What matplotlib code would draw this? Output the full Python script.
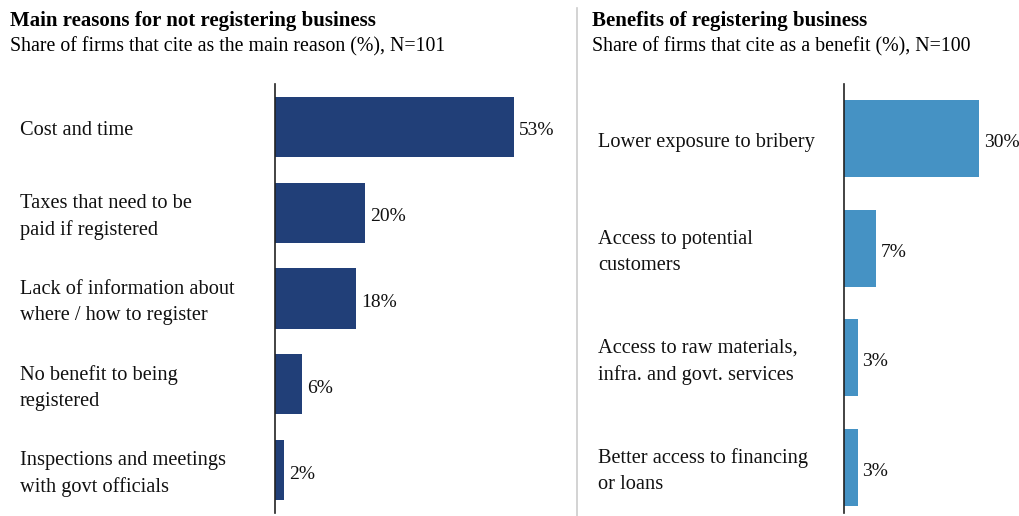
import matplotlib
matplotlib.use("Agg")
import matplotlib.pyplot as plt
from matplotlib.lines import Line2D
from matplotlib.transforms import ScaledTranslation

plt.rcParams['font.family'] = ['Liberation Serif', 'DejaVu Serif']

# main reasons for not registering
reasons = ["Cost and time",
           "Taxes that need to be\npaid if registered",
           "Lack of information about\nwhere / how to register",
           "No benefit to being\nregistered",
           "Inspections and meetings\nwith govt officials"]
reason_pct = [53, 20, 18, 6, 2]

# benefits of registering
benefits = ["Lower exposure to bribery",
            "Access to potential\ncustomers",
            "Access to raw materials,\ninfra. and govt. services",
            "Better access to financing\nor loans"]
benefit_pct = [30, 7, 3, 3]

W, H = 1019, 516
PX_PER_PCT = 4.5
LABEL_SIZE = 14.7
fig = plt.figure(figsize=(W / 100, H / 100), dpi=100)
# nudge text down a few pixels so glyphs sit centred on the bars
nudge = ScaledTranslation(0, -4 / 100, fig.dpi_scale_trans)


def fx(px):
    return px / W


def fy(px):
    return 1 - px / H


def panel(x0, width_px, top, bottom, vals, color, ylim):
    ax = fig.add_axes([fx(x0), fy(bottom), width_px / W, (bottom - top) / H])
    ypos = list(range(len(vals)))
    ax.barh(ypos, vals, height=0.7, color=color)
    ax.set_xlim(0, width_px / PX_PER_PCT)
    ax.set_ylim(*ylim)
    for s in ['top', 'right', 'bottom']:
        ax.spines[s].set_visible(False)
    ax.spines['left'].set_linewidth(1.2)
    ax.spines['left'].set_color('#222222')
    ax.set_xticks([])
    ax.set_yticks([])
    for y, v in zip(ypos, vals):
        ax.text(v + 1.1, y, f"{v}%", va='center', ha='left', fontsize=14,
                color='#111111', transform=ax.transData + nudge)
    return ax


def place_labels(ax, x_px, cats):
    # category names sit in the left margin, centred on their bars
    for y, c in enumerate(cats):
        disp = ax.transData.transform((0, y))[1]
        fig.text(fx(x_px), disp / H, c, fontsize=LABEL_SIZE, va='center',
                 ha='left', linespacing=1.5, color='#111111',
                 transform=fig.transFigure + nudge)


ax1 = panel(275, 280, 84, 513, reason_pct, '#213f78', (4.5, -0.5))
ax2 = panel(844, 170, 84, 513, benefit_pct, '#4592c4', (3.415, -0.497))
fig.canvas.draw()
place_labels(ax1, 20, reasons)
place_labels(ax2, 598, benefits)

# titles
fig.text(fx(10), fy(21), "Main reasons for not registering business", fontsize=15,
         fontweight='bold', va='center', ha='left')
fig.text(fx(10), fy(47), "Share of firms that cite as the main reason (%), N=101",
         fontsize=14.3, va='center', ha='left')
fig.text(fx(592), fy(21), "Benefits of registering business", fontsize=15,
         fontweight='bold', va='center', ha='left')
fig.text(fx(592), fy(47), "Share of firms that cite as a benefit (%), N=100",
         fontsize=14.3, va='center', ha='left')

# divider between the two panels
fig.add_artist(Line2D([fx(577), fx(577)], [fy(8), fy(516)], color='#cccccc', lw=1.2))

fig.savefig("out.png", dpi=100)
